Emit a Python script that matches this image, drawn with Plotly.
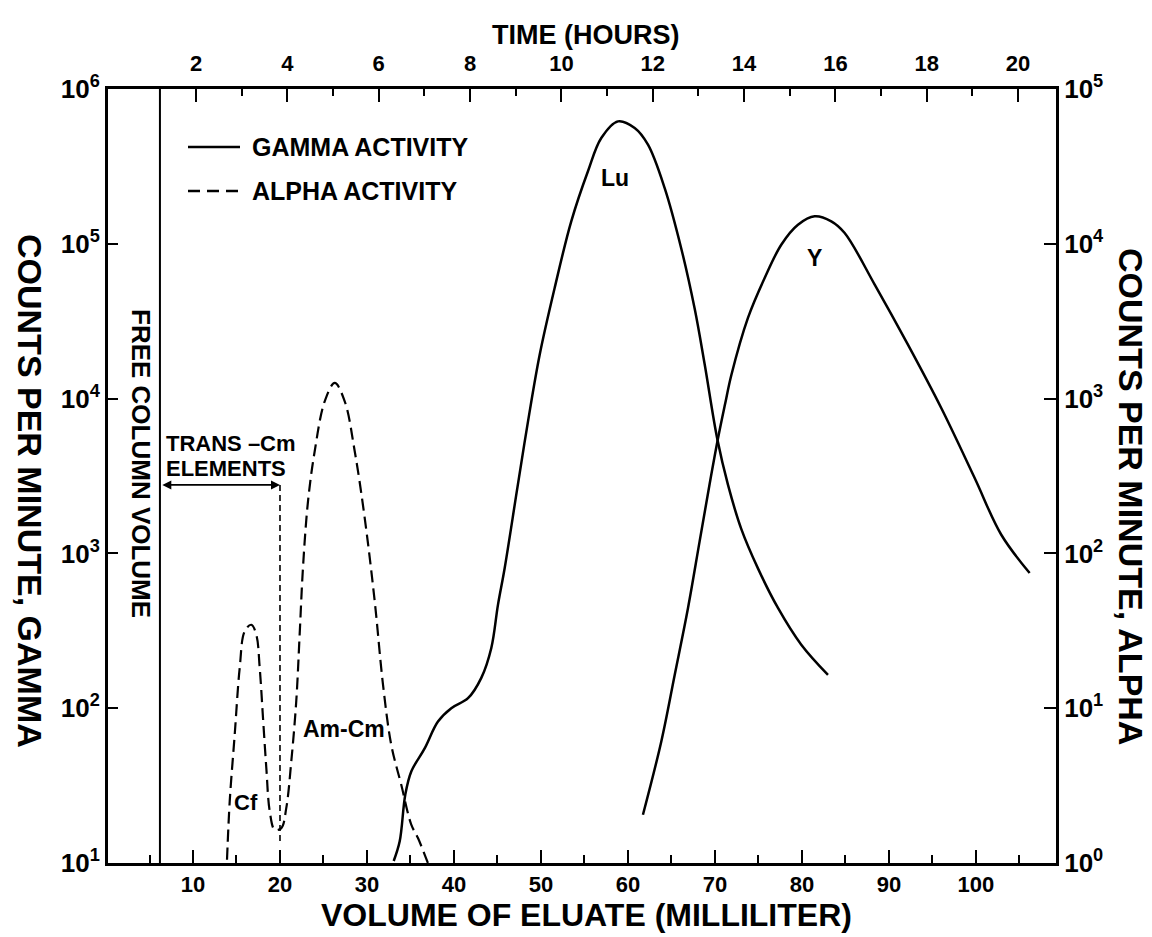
import math
import plotly.graph_objects as go

# ---------------- data ----------------
# Gamma activity, Lu peak (left axis, counts/min)
lu_ml = [33.07, 33.76, 34.40, 35.09, 36.63, 38.16, 39.69, 41.61, 43.14, 44.29, 45.06,
         45.83, 47.28, 48.51, 49.85, 51.57, 53.48, 55.40, 56.93, 58.85, 60.77, 62.30,
         64.22, 66.13, 67.67, 68.82, 70.26, 71.49, 73.02, 74.94, 77.24, 79.92, 82.99]
lu_cpm = [10.3, 13.8, 27.6, 39, 55, 82, 100, 116, 157, 245, 467,
          805, 2640, 7130, 19200, 51800, 139600, 294000, 482000, 618000, 560000, 437000,
          229000, 93000, 38000, 16600, 5500, 2780, 1440, 800, 444, 257, 164]

# Gamma activity, Y peak (left axis, counts/min)
y_ml = [61.72, 63.83, 65.37, 66.90, 68.24, 69.39, 70.34, 71.18, 71.87, 73.79, 75.71,
        77.62, 79.54, 81.46, 83.37, 84.91, 88.36, 92.18, 96.01, 99.85, 102.91, 106.17]
y_cpm = [20.5, 61, 164, 444, 1200, 2820, 5500, 9330, 14100, 33200, 60100,
         98600, 132800, 150600, 139700, 117400, 54500, 22300, 8690, 3070, 1320, 747]

# Alpha activity, Cf and Am-Cm peaks (right axis, counts/min)
alpha_ml = [13.91, 14.22, 14.79, 15.37, 15.94, 16.70, 17.28, 17.67, 18.05, 18.43, 18.82,
            19.39, 20.15, 20.72, 21.30, 21.87, 22.26, 22.64, 23.22, 23.99, 25.14, 26.29,
            27.44, 28.59, 29.74, 30.89, 31.84, 32.79, 33.94, 35.09, 35.86, 37.0]
alpha_cpm = [1.05, 2.5, 6.7, 18.2, 31.4, 34.6, 29.8, 18.2, 8.6, 4.1, 2.16,
             1.64, 1.68, 2.26, 4.54, 11.1, 29.9, 80.5, 217, 457, 961, 1262,
             961, 457, 169, 49, 14.2, 5.8, 3.2, 1.77, 1.45, 1.0]

# Trans-Cm cut (vertical dashed marker, right axis)
cut_ml = [20.0, 20.0]
cut_cpm = [277, 1.33]

FREE_COLUMN_ML = 6.2
ARROW_FROM_ML, ARROW_TO_ML, ARROW_CPM = 6.3, 20.0, 277   # alpha cpm level

# axes
vol_ticks = [10, 20, 30, 40, 50, 60, 70, 80, 90, 100]
vol_minor = [5, 15, 25, 35, 45, 55, 65, 75, 85, 95, 105]
hour_ticks = [2, 4, 6, 8, 10, 12, 14, 16, 18, 20]
hour_minor = [3, 5, 7, 9, 11, 13, 15, 17, 19]
gamma_ticks = [1e1, 1e2, 1e3, 1e4, 1e5, 1e6]
gamma_text = ["10<sup>1</sup>", "10<sup>2</sup>", "10<sup>3</sup>", "10<sup>4</sup>",
              "10<sup>5</sup>", "10<sup>6</sup>"]
alpha_ticks = [1e0, 1e1, 1e2, 1e3, 1e4, 1e5]
alpha_text = ["10<sup>0</sup>", "10<sup>1</sup>", "10<sup>2</sup>", "10<sup>3</sup>",
              "10<sup>4</sup>", "10<sup>5</sup>"]

# ---------------- figure ----------------
FONT = "Liberation Sans, Arial, sans-serif"
W, H = 1152, 937
L, R, T, B = 100, 1048, 81, 855

def px(x):
    return (x - L) / (R - L)

def py(y):
    return (B - y) / (B - T)

fig = go.Figure()
line_k = dict(color="black", width=2.5)
fig.add_trace(go.Scatter(x=lu_ml, y=lu_cpm, mode="lines", xaxis="x", yaxis="y",
                         line=dict(line_k, shape="spline", smoothing=1.0),
                         name="GAMMA ACTIVITY", hoverinfo="skip"))
fig.add_trace(go.Scatter(x=y_ml, y=y_cpm, mode="lines", xaxis="x", yaxis="y",
                         line=dict(line_k, shape="spline", smoothing=1.0),
                         name="GAMMA ACTIVITY", hoverinfo="skip"))
fig.add_trace(go.Scatter(x=alpha_ml, y=alpha_cpm, mode="lines", xaxis="x", yaxis="y2",
                         line=dict(color="black", width=2.2, dash="12px,6px",
                                   shape="spline", smoothing=1.0),
                         name="ALPHA ACTIVITY", hoverinfo="skip"))
fig.add_trace(go.Scatter(x=cut_ml, y=cut_cpm, mode="lines", xaxis="x", yaxis="y2",
                         line=dict(color="black", width=1.6, dash="6px,4px"),
                         hoverinfo="skip"))
# empty trace to activate the top (time) axis
fig.add_trace(go.Scatter(x=[], y=[], xaxis="x2", yaxis="y", hoverinfo="skip"))

xfont = dict(family=FONT, size=22, color="black", weight="bold")
yfont = dict(family=FONT, size=26, color="black", weight="bold")
common = dict(showgrid=False, zeroline=False, showline=True, linecolor="black",
              linewidth=3, ticks="inside", tickcolor="black", tickwidth=2)

fig.update_layout(
    width=W, height=H, autosize=False,
    margin=dict(l=L, r=W - R, t=T, b=H - B, pad=0),
    paper_bgcolor="white", plot_bgcolor="white", showlegend=False,
    xaxis=dict(common, range=[0.23, 109.2], tickmode="array", tickvals=vol_ticks,
               ticktext=[str(v) for v in vol_ticks], ticklen=13, tickfont=xfont,
               minor=dict(tickmode="array", tickvals=vol_minor, ticks="inside",
                          ticklen=8, tickwidth=2, tickcolor="black"),
               anchor="y"),
    xaxis2=dict(common, range=[0.073, 20.83], overlaying="x", side="top", anchor="y",
                tickmode="array", tickvals=hour_ticks, tickfont=xfont,
                ticktext=[str(v) for v in hour_ticks], ticklen=13,
                ticklabelstandoff=6,
                minor=dict(tickmode="array", tickvals=hour_minor, ticks="inside",
                           ticklen=7, tickwidth=2, tickcolor="black")),
    yaxis=dict(common, type="log", range=[1, 6], tickmode="array", tickfont=yfont,
               tickvals=gamma_ticks, ticktext=gamma_text, ticklen=10, anchor="x"),
    yaxis2=dict(common, type="log", range=[0, 5], overlaying="y", side="right",
                anchor="x", tickmode="array", tickvals=alpha_ticks, tickfont=yfont,
                ticktext=alpha_text, ticklen=12),
)

# free column volume line
fig.add_shape(type="line", xref="x", yref="paper", x0=FREE_COLUMN_ML, x1=FREE_COLUMN_ML,
              y0=0, y1=1, line=dict(color="black", width=2))

# trans-Cm arrow (double headed); log axis -> annotation coords in log10
fig.add_annotation(x=ARROW_TO_ML, y=math.log10(ARROW_CPM), xref="x", yref="y2",
                   ax=ARROW_FROM_ML, ay=math.log10(ARROW_CPM), axref="x", ayref="y2",
                   text="", showarrow=True, arrowhead=2, arrowside="end+start",
                   arrowsize=1, arrowwidth=1.8, arrowcolor="black", standoff=0,
                   startstandoff=0)

def label(text, x, y, size, bold=True, angle=0, xanchor="center", yanchor="middle"):
    t = f"<b>{text}</b>" if bold else text
    fig.add_annotation(text=t, x=px(x), y=py(y), xref="paper", yref="paper",
                       showarrow=False, textangle=angle, xanchor=xanchor,
                       yanchor=yanchor, font=dict(family=FONT, size=size, color="black"))

# axis titles
label("TIME (HOURS)", 577, 27, 27)
label("VOLUME OF ELUATE (MILLILITER)", 578, 907, 32)
label("COUNTS PER MINUTE, GAMMA", 22, 483, 34, angle=90)
label("COUNTS PER MINUTE, ALPHA", 1123, 488, 34, angle=90)

# in-plot labels
label("FREE COLUMN VOLUME", 133, 455, 26, angle=90)
label("TRANS –Cm", 156, 435, 22, xanchor="left")
label("ELEMENTS", 156, 460, 22, xanchor="left")
label("Lu", 607, 170, 23)
label("Y", 806, 250, 23)
label("Am-Cm", 336, 721, 23)
label("Cf", 238, 794, 22)

# legend
fig.add_shape(type="line", xref="paper", yref="paper", x0=px(180), x1=px(232),
              y0=py(139), y1=py(139), line=dict(color="black", width=2.5))
fig.add_shape(type="line", xref="paper", yref="paper", x0=px(180), x1=px(232),
              y0=py(183), y1=py(183), line=dict(color="black", width=2.5, dash="12px,7px"))
label("GAMMA ACTIVITY", 242, 139, 25, xanchor="left")
label("ALPHA ACTIVITY", 242, 183, 25, xanchor="left")

fig.write_html("out.html")
